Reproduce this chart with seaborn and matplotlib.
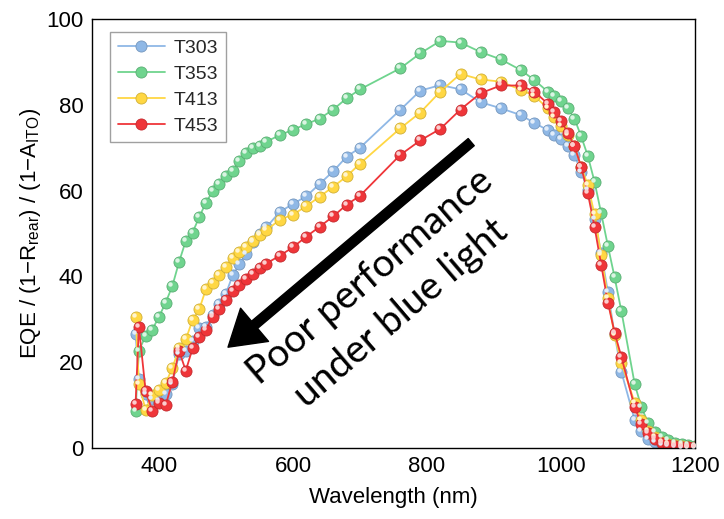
import numpy as np
import pandas as pd
import matplotlib
matplotlib.use("Agg")
import matplotlib.pyplot as plt
import matplotlib.transforms as mtransforms
from matplotlib.colors import to_rgb
import seaborn as sns

# ---------------- data ----------------
wavelength = [365, 370, 380, 390, 400, 410, 420, 430, 440, 450, 460, 470, 480, 490, 500,
              510, 520, 530, 540, 550, 560, 580, 600, 620, 640, 660, 680, 700, 760, 790,
              820, 850, 880, 910, 940, 960, 980, 990, 1000, 1010, 1020, 1030, 1040, 1050,
              1060, 1070, 1080, 1090, 1110, 1120, 1130, 1140, 1150, 1160, 1170, 1180, 1190, 1200]

t303 = [26.5, 16.0, 12.5, 11.5, 11.0, 12.5, 15.0, 22.0, 22.5, 25.0, 27.9, 28.3, 31.0, 33.5, 36.0,
        40.3, 42.8, 45.2, 48.0, 50.0, 51.4, 55.0, 56.9, 58.7, 61.6, 64.5, 67.9, 70.0, 78.8, 83.3,
        84.6, 83.6, 80.6, 79.2, 77.6, 75.8, 74.1, 73.0, 72.0, 70.4, 68.3, 64.4, 60.1, 53.3,
        45.5, 36.4, 26.5, 17.8, 6.5, 4.0, 2.2, 1.3, 0.7, 0.4, 0.2, 0.1, 0.1, 0.1]

t353 = [8.7, 22.7, 26.1, 27.6, 30.6, 33.9, 37.8, 43.4, 48.3, 50.2, 53.8, 57.2, 59.8, 61.5, 63.3,
        64.6, 67.0, 68.7, 69.9, 70.4, 71.4, 72.9, 74.2, 75.5, 76.8, 78.9, 81.5, 83.6, 88.5, 92.0,
        94.9, 94.5, 92.3, 90.6, 88.1, 85.8, 83.1, 82.0, 81.0, 79.2, 76.8, 72.7, 68.1, 62.1,
        54.7, 47.1, 39.8, 32.0, 14.9, 9.5, 5.9, 3.8, 2.6, 1.9, 1.2, 0.9, 0.7, 0.5]

t413 = [30.6, 14.9, 8.9, 12.4, 13.5, 15.1, 18.7, 23.2, 25.3, 29.8, 32.3, 37.0, 38.5, 40.3, 42.3,
        44.3, 45.8, 46.8, 48.3, 49.6, 50.7, 53.2, 54.4, 56.4, 58.6, 60.9, 63.3, 66.3, 74.5, 78.2,
        83.1, 87.2, 85.9, 85.4, 83.5, 82.1, 79.2, 77.1, 75.1, 73.0, 70.4, 65.6, 61.3, 54.5,
        45.0, 34.9, 26.3, 19.9, 10.6, 6.5, 4.0, 2.5, 1.5, 0.9, 0.6, 0.4, 0.3, 0.3]

t453 = [10.2, 28.3, 13.3, 8.7, 10.6, 10.0, 15.5, 22.6, 18.0, 23.2, 25.8, 27.5, 30.6, 32.3, 34.6,
        36.7, 38.0, 39.4, 40.5, 42.0, 43.0, 44.8, 46.8, 49.3, 51.6, 54.0, 56.7, 58.8, 68.3, 71.7,
        74.4, 78.9, 82.7, 84.5, 84.5, 83.1, 80.3, 78.4, 76.3, 73.5, 70.4, 65.6, 59.4, 51.6,
        42.7, 33.9, 26.9, 21.3, 9.5, 5.6, 3.4, 2.0, 1.2, 0.7, 0.4, 0.3, 0.3, 0.3]

series_names = ["T303", "T353", "T413", "T453"]
series_values = [t303, t353, t413, t453]
colors = ["#8FB8E6", "#6FD48E", "#FFD743", "#EF3539"]

x_ticks = [400, 600, 800, 1000, 1200]
y_ticks = [0, 20, 40, 60, 80, 100]

df = pd.DataFrame({
    "Wavelength": np.tile(wavelength, len(series_names)),
    "EQE": np.concatenate(series_values),
    "Sample": np.repeat(series_names, len(wavelength)),
})

# ---------------- style ----------------
sns.set_theme(style="white")
plt.rcParams["font.family"] = ["Liberation Sans", "DejaVu Sans"]
plt.rcParams["mathtext.default"] = "regular"

fig = plt.figure(figsize=(7.24, 5.19), dpi=100)
ax = fig.add_axes([92 / 724, 1 - 448 / 519, (695 - 92) / 724, (448 - 19) / 519])

palette = dict(zip(series_names, colors))
sns.lineplot(data=df, x="Wavelength", y="EQE", hue="Sample", palette=palette,
             marker="o", markersize=8, linewidth=1.3, markeredgewidth=0.6,
             sort=False, ax=ax, legend=True)

def darker(c, f=0.82):
    r, g, b = to_rgb(c)
    return (r * f, g * f, b * f)

def lighter(c, f=0.55):
    r, g, b = to_rgb(c)
    return (r + (1 - r) * f, g + (1 - g) * f, b + (1 - b) * f)

for line in ax.lines:
    c = line.get_color()
    line.set_markeredgecolor(darker(c))
    line.set_markerfacecolor(c)

# Specular highlights on the ball markers
hl = mtransforms.offset_copy(ax.transData, fig=fig, x=-2.0, y=2.0, units="dots")
for name, vals, c in zip(series_names, series_values, colors):
    ax.plot(wavelength, vals, linestyle="none", marker="o", markersize=3.2,
            markerfacecolor=lighter(c, 0.75), markeredgewidth=0, transform=hl, zorder=3)

ax.set_xlim(300, 1200)
ax.set_ylim(0, 100)
ax.set_xticks(x_ticks)
ax.set_xticks([300, 500, 700, 900, 1100], minor=True)
ax.set_yticks(y_ticks)
ax.set_yticks([10, 30, 50, 70, 90], minor=True)
ax.tick_params(axis="both", which="major", direction="in", length=6, width=1,
               labelsize=16, pad=6, color="black", labelcolor="black")
ax.tick_params(axis="both", which="minor", direction="in", length=3.5, width=1, color="black")
ax.tick_params(top=False, right=False, which="both")
for s in ax.spines.values():
    s.set_color("black")
    s.set_linewidth(1.0)
    s.set_visible(True)

ax.set_xlabel("Wavelength (nm)", fontsize=16, color="black")
ax.set_ylabel("EQE / (1\u2212R$_{rear}$) / (1\u2212A$_{ITO}$)", fontsize=16, color="black")
ax.xaxis.set_label_coords(0.5, -0.09)
ax.yaxis.set_label_coords(-0.081, 0.5)

handles, labels = ax.get_legend_handles_labels()
leg = ax.legend(handles, labels, loc="upper left", bbox_to_anchor=(0.03, 0.97),
                borderaxespad=0, fontsize=14, frameon=True, fancybox=False,
                edgecolor="#888888", handlelength=2.4, handletextpad=0.45,
                labelspacing=0.42, borderpad=0.4)
leg.get_frame().set_linewidth(1.0)
for h in leg.get_lines():
    h.set_markeredgecolor(darker(h.get_color()))

# Arrow and annotation
ax.annotate("", xy=(503, 23.5), xytext=(866, 71.3),
            arrowprops=dict(arrowstyle="simple,head_length=1.0,head_width=1.25,tail_width=0.27",
                            color="black", mutation_scale=25, shrinkA=0, shrinkB=0))
ax.text(738, 35.6, "Poor performance\nunder blue light", rotation=40.5,
        rotation_mode="anchor", ha="center", va="center", multialignment="center",
        fontsize=28, linespacing=1.42, color="black", family=["Lato", "DejaVu Sans"])

fig.savefig("out.png", dpi=100)
